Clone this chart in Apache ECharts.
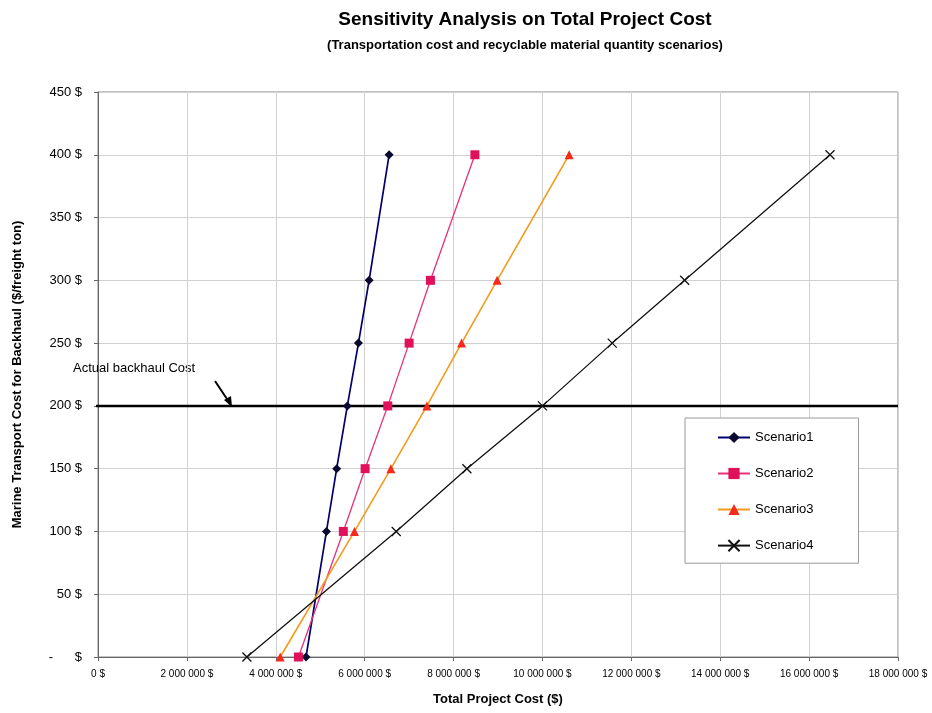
<!DOCTYPE html>
<html><head><meta charset="utf-8">
<script src="https://cdn.jsdelivr.net/npm/echarts@6/dist/echarts.min.js"></script>
<style>html,body{margin:0;padding:0;background:#fff}#c{width:932px;height:713px}</style>
</head><body><div id="c"></div>
<script>
const yValues = [0, 100, 150, 200, 250, 300, 400];
const scenario1 = [4680000, 5140000, 5370000, 5610000, 5860000, 6100000, 6550000];
const scenario2 = [4510000, 5520000, 6010000, 6520000, 7000000, 7480000, 8480000];
const scenario3 = [4100000, 5770000, 6590000, 7400000, 8180000, 8980000, 10600000];
const scenario4 = [3350000, 6710000, 8300000, 10000000, 11570000, 13200000, 16470000];
const actualBackhaul = 200;
const actualLineStart = -450000;
const xMax = 18000000, xStep = 2000000, yMax = 450, yStep = 50;

const F = 'Liberation Sans, Arial, sans-serif';
function pts(xs){ return xs.map((x,i)=>[x, yValues[i]]); }
function fmtX(v){ return v===0 ? '0 $' : String(v).replace(/\B(?=(\d{3})+(?!\d))/g,' ') + ' $'; }
function fmtY(v){ return v===0 ? '-      $' : v + ' $'; }
const crossPath = 'path://M0,0L10,10M10,0L0,10';

const chart = echarts.init(document.getElementById('c'));
chart.setOption({
  animation:false,
  title:[
    {text:'Sensitivity Analysis on Total Project Cost', left:520, top:5, textAlign:'center',
     textStyle:{fontFamily:F, fontSize:19, fontWeight:'bold', color:'#000'}},
    {text:'(Transportation cost and recyclable material quantity scenarios)', left:520, top:34, textAlign:'center',
     textStyle:{fontFamily:F, fontSize:13, fontWeight:'bold', color:'#000'}}
  ],
  grid:{left:98, right:34, top:92, bottom:56, show:true, borderColor:'#888', borderWidth:1},
  legend:{
    orient:'vertical', left:685, top:418, itemWidth:32, itemHeight:14, itemGap:23,
    padding:[13,45,11,32], backgroundColor:'#fff', borderColor:'#999', borderWidth:1,
    textStyle:{fontFamily:F, fontSize:13, color:'#000'},
    data:['Scenario1','Scenario2','Scenario3','Scenario4']
  },
  xAxis:{
    type:'value', min:0, max:xMax, interval:xStep,
    name:'Total Project Cost ($)', nameLocation:'middle', nameGap:36,
    nameTextStyle:{fontFamily:F, fontSize:13, fontWeight:'bold', color:'#000'},
    axisLine:{show:true, lineStyle:{color:'#666'}},
    axisTick:{show:true, length:4, lineStyle:{color:'#666'}},
    axisLabel:{formatter:fmtX, fontFamily:F, fontSize:10, color:'#000', margin:12},
    splitLine:{show:true, lineStyle:{color:'#d0d0d0'}}
  },
  yAxis:{
    type:'value', min:0, max:yMax, interval:yStep,
    name:'Marine Transport Cost for Backhaul ($/freight ton)', nameLocation:'middle', nameGap:74,
    nameTextStyle:{fontFamily:F, fontSize:13, fontWeight:'bold', color:'#000'},
    axisLine:{show:true, lineStyle:{color:'#666'}},
    axisTick:{show:true, length:4, lineStyle:{color:'#666'}},
    axisLabel:{formatter:fmtY, fontFamily:F, fontSize:13, color:'#000', margin:16},
    splitLine:{show:true, lineStyle:{color:'#d0d0d0'}}
  },
  series:[
    {name:'Actual backhaul Cost', type:'line', data:[[actualLineStart,actualBackhaul],[xMax,actualBackhaul]],
     symbol:'none', clip:false, lineStyle:{color:'#000', width:2.5}, silent:true, z:1},
    {name:'Scenario1', type:'line', data:pts(scenario1), symbol:'diamond', symbolSize:9,
     lineStyle:{color:'#000070', width:1.7}, itemStyle:{color:'#0a0a30'}, z:3},
    {name:'Scenario2', type:'line', data:pts(scenario2), symbol:'rect', symbolSize:9,
     lineStyle:{color:'#e8307a', width:1.3}, itemStyle:{color:'#e0105a'}, z:3},
    {name:'Scenario3', type:'line', data:pts(scenario3), symbol:'triangle', symbolSize:9,
     lineStyle:{color:'#f59a1c', width:1.6}, itemStyle:{color:'#f52a1a'}, z:3},
    {name:'Scenario4', type:'line', data:pts(scenario4), symbol:crossPath, symbolSize:9,
     lineStyle:{color:'#111', width:1.3}, itemStyle:{color:'#111', borderColor:'#111', borderWidth:1.3}, z:3}
  ],
  graphic:[
    {type:'text', left:73, top:362, style:{text:'Actual backhaul Cost', font:'13px '+F, fill:'#000'}},
    {type:'line', shape:{x1:215, y1:381, x2:229, y2:402}, style:{stroke:'#000', lineWidth:2}},
    {type:'polygon', shape:{points:[[232,407],[224,400],[231,396]]}, style:{fill:'#000'}}
  ]
});
</script></body></html>
